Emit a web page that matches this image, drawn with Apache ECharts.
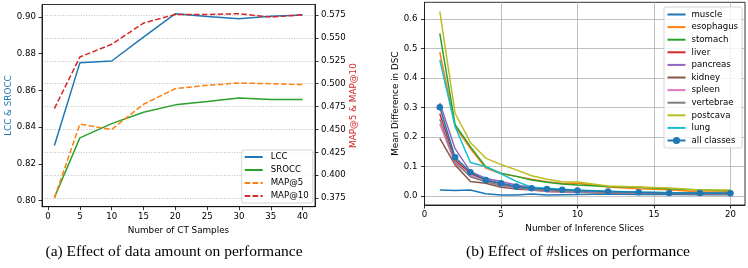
<!DOCTYPE html>
<html>
<head>
<meta charset="utf-8">
<script src="https://cdn.jsdelivr.net/npm/echarts@6/dist/echarts.min.js"></script>
<style>html,body{margin:0;padding:0;background:#fff}#c{width:748px;height:268px}</style>
</head>
<body>
<div id="c"></div>
<script>
// ---- Chart (a): effect of data amount ----
const samplesX = [1, 5, 10, 15, 20, 25, 30, 35, 40];
const lcc   = [0.830, 0.875, 0.876, 0.889, 0.9018, 0.9003, 0.8991, 0.9004, 0.9011];
const srocc = [0.8016, 0.8341, 0.8419, 0.8481, 0.8521, 0.8539, 0.8559, 0.855, 0.855];
const map5  = [0.375, 0.4557, 0.4499, 0.4775, 0.4946, 0.4982, 0.5008, 0.500, 0.499];
const map10 = [0.4728, 0.5292, 0.5431, 0.5663, 0.5757, 0.5757, 0.5765, 0.5728, 0.5754];
const aXTicks = [0, 5, 10, 15, 20, 25, 30, 35, 40];
const aLeftTicks = [0.80, 0.82, 0.84, 0.86, 0.88, 0.90];
const aRightTicks = [0.375, 0.400, 0.425, 0.450, 0.475, 0.500, 0.525, 0.550, 0.575];

// ---- Chart (b): effect of #slices ----
const slicesX = [1, 2, 3, 4, 5, 6, 7, 8, 9, 10, 12, 14, 16, 18, 20];
const classNames = ['muscle', 'esophagus', 'stomach', 'liver', 'pancreas', 'kidney', 'spleen', 'vertebrae', 'postcava', 'lung', 'all classes'];
const muscle    = [0.020, 0.018, 0.020, 0.007, 0.003, 0.003, 0.006, 0.003, 0.004, 0.005, 0.006, 0.005, 0.005, 0.004, 0.004];
const esophagus = [0.487, 0.236, 0.160, 0.094, 0.075, 0.066, 0.056, 0.048, 0.042, 0.043, 0.030, 0.024, 0.021, 0.013, 0.013];
const stomach   = [0.551, 0.241, 0.167, 0.099, 0.077, 0.066, 0.054, 0.046, 0.040, 0.037, 0.032, 0.029, 0.024, 0.020, 0.017];
const liver     = [0.278, 0.122, 0.075, 0.054, 0.041, 0.032, 0.026, 0.020, 0.018, 0.016, 0.013, 0.011, 0.010, 0.008, 0.008];
const pancreas  = [0.315, 0.160, 0.082, 0.060, 0.049, 0.037, 0.029, 0.023, 0.020, 0.018, 0.015, 0.012, 0.010, 0.009, 0.008];
const kidney    = [0.195, 0.105, 0.049, 0.043, 0.029, 0.023, 0.020, 0.015, 0.013, 0.012, 0.010, 0.009, 0.008, 0.007, 0.006];
const spleen    = [0.244, 0.111, 0.068, 0.049, 0.034, 0.027, 0.023, 0.015, 0.014, 0.013, 0.011, 0.010, 0.009, 0.008, 0.007];
const vertebrae = [0.260, 0.115, 0.065, 0.048, 0.036, 0.028, 0.022, 0.018, 0.015, 0.014, 0.012, 0.010, 0.009, 0.008, 0.007];
const postcava  = [0.625, 0.280, 0.181, 0.128, 0.106, 0.088, 0.068, 0.056, 0.048, 0.047, 0.033, 0.030, 0.027, 0.020, 0.020];
const lung      = [0.461, 0.235, 0.113, 0.099, 0.075, 0.049, 0.029, 0.026, 0.022, 0.020, 0.016, 0.013, 0.011, 0.010, 0.009];
const allClasses= [0.300, 0.131, 0.080, 0.054, 0.043, 0.032, 0.026, 0.023, 0.021, 0.018, 0.015, 0.012, 0.010, 0.010, 0.009];
const bXTicks = [0, 5, 10, 15, 20];
const bYTicks = [0.0, 0.1, 0.2, 0.3, 0.4, 0.5, 0.6];

const captionA = '(a) Effect of data amount on performance';
const captionB = '(b) Effect of #slices on performance';

// ---- styling ----
const FONT = 'DejaVu Sans';
const TICK_FS = 8.6;
const NAME_FS = 8.8;
const tab = ['#1f77b4', '#ff7f0e', '#2ca02c', '#d62728', '#9467bd', '#8c564b', '#e377c2', '#7f7f7f', '#bcbd22', '#17becf'];
const classValues = [muscle, esophagus, stomach, liver, pancreas, kidney, spleen, vertebrae, postcava, lung, allClasses];

function pairs(xs, ys) { return xs.map((x, i) => [x, ys[i]]); }

const axisLine = { show: true, onZero: false, lineStyle: { color: '#000', width: 0.8 } };
const tickStyle = (vals) => ({ show: true, length: 3.5, customValues: vals, lineStyle: { color: '#000', width: 0.8 } });
const labelStyle = (vals, fmt, margin) => ({ customValues: vals, formatter: fmt, margin: margin, color: '#000', fontSize: TICK_FS, fontFamily: FONT });

const chart = echarts.init(document.getElementById('c'), null, { renderer: 'canvas' });

const series = [
  { name: 'LCC', type: 'line', xAxisIndex: 0, yAxisIndex: 0, data: pairs(samplesX, lcc), symbol: 'none', lineStyle: { color: tab[0], width: 1.5 }, itemStyle: { color: tab[0] } },
  { name: 'SROCC', type: 'line', xAxisIndex: 0, yAxisIndex: 0, data: pairs(samplesX, srocc), symbol: 'none', lineStyle: { color: tab[2], width: 1.5 }, itemStyle: { color: tab[2] } },
  { name: 'MAP@5', type: 'line', xAxisIndex: 0, yAxisIndex: 1, data: pairs(samplesX, map5), symbol: 'none', lineStyle: { color: tab[1], width: 1.5, type: [5.5, 2.4] }, itemStyle: { color: tab[1] } },
  { name: 'MAP@10', type: 'line', xAxisIndex: 0, yAxisIndex: 1, data: pairs(samplesX, map10), symbol: 'none', lineStyle: { color: tab[3], width: 1.5, type: [5.5, 2.4] }, itemStyle: { color: tab[3] } }
];
classNames.forEach((n, i) => {
  const c = tab[i % 10];
  const isAll = n === 'all classes';
  series.push({
    name: n, type: 'line', xAxisIndex: 1, yAxisIndex: 2,
    data: pairs(slicesX, classValues[i]),
    symbol: isAll ? 'circle' : 'none', symbolSize: 6.5, showSymbol: isAll,
    lineStyle: { color: c, width: 1.5 }, itemStyle: { color: c }
  });
});

const noSym = (name) => ({ name: name, itemStyle: { opacity: 0 } });

chart.setOption({
  animation: false,
  backgroundColor: '#fff',
  grid: [
    { left: 42, top: 4.5, width: 273, height: 202.2, show: true, borderColor: '#000', borderWidth: 0.8, backgroundColor: 'transparent' },
    { left: 424.5, top: 2.3, width: 320.5, height: 202.7, show: true, borderColor: '#000', borderWidth: 0.8, backgroundColor: 'transparent' }
  ],
  xAxis: [
    { type: 'value', gridIndex: 0, min: -0.95, max: 41.95, axisLine: axisLine, axisTick: tickStyle(aXTicks),
      axisLabel: labelStyle(aXTicks, v => String(v), 5.5), splitLine: { show: false },
      name: 'Number of CT Samples', nameLocation: 'middle', nameGap: 18,
      nameTextStyle: { fontSize: NAME_FS, fontFamily: FONT, color: '#000' } },
    { type: 'value', gridIndex: 1, min: 0, max: 20.95, axisLine: axisLine, axisTick: tickStyle(bXTicks),
      axisLabel: labelStyle(bXTicks, v => String(v), 5.5),
      splitLine: { show: true, lineStyle: { color: '#b0b0b0', width: 0.8 } },
      name: 'Number of Inference Slices', nameLocation: 'middle', nameGap: 17.5,
      nameTextStyle: { fontSize: NAME_FS, fontFamily: FONT, color: '#000' } }
  ],
  yAxis: [
    { type: 'value', gridIndex: 0, position: 'left', min: 0.7966, max: 0.9068, axisLine: axisLine, axisTick: tickStyle(aLeftTicks),
      axisLabel: labelStyle(aLeftTicks, v => v.toFixed(2), 6), splitLine: { show: false },
      name: 'LCC & SROCC', nameLocation: 'middle', nameRotate: 90, nameGap: 29,
      nameTextStyle: { fontSize: NAME_FS, fontFamily: FONT, color: tab[0] } },
    { type: 'value', gridIndex: 0, position: 'right', min: 0.3655, max: 0.5866, axisLine: axisLine, axisTick: tickStyle(aRightTicks),
      axisLabel: labelStyle(aRightTicks, v => v.toFixed(3), 6),
      splitLine: { show: true, lineStyle: { color: '#b0b0b0', width: 0.8, type: [1, 1.6] } },
      name: 'MAP@5 & MAP@10', nameLocation: 'middle', nameRotate: 90, nameGap: 32,
      nameTextStyle: { fontSize: NAME_FS, fontFamily: FONT, color: tab[3] } },
    { type: 'value', gridIndex: 1, position: 'left', min: -0.031, max: 0.656, axisLine: axisLine, axisTick: tickStyle(bYTicks),
      axisLabel: labelStyle(bYTicks, v => v.toFixed(1), 7),
      splitLine: { show: true, lineStyle: { color: '#b0b0b0', width: 0.8 } },
      name: 'Mean Difference in DSC', nameLocation: 'middle', nameRotate: 90, nameGap: 24,
      nameTextStyle: { fontSize: NAME_FS, fontFamily: FONT, color: '#000' } }
  ],
  legend: [
    { data: ['LCC', 'SROCC', 'MAP@5', 'MAP@10'].map(noSym), orient: 'vertical', left: 241.7, top: 150,
      itemWidth: 18, itemHeight: 9, itemGap: 4, padding: [2.5, 4, 2.5, 2],
      backgroundColor: 'rgba(255,255,255,0.8)', borderColor: '#cccccc', borderWidth: 0.8, borderRadius: 2,
      textStyle: { fontSize: TICK_FS, fontFamily: FONT, color: '#000', padding: [0, 0, 0, 3] } },
    { data: classNames.map(n => n === 'all classes' ? { name: n } : noSym(n)), orient: 'vertical', left: 664, top: 7,
      itemWidth: 18, itemHeight: 9, itemGap: 3.6, padding: [3, 4, 3, 2.5],
      backgroundColor: 'rgba(255,255,255,0.8)', borderColor: '#cccccc', borderWidth: 0.8, borderRadius: 2,
      textStyle: { fontSize: TICK_FS, fontFamily: FONT, color: '#000', padding: [0, 0, 0, 1] } }
  ],
  graphic: [
    { type: 'text', style: { text: captionA, x: 174, y: 252, textAlign: 'center', textVerticalAlign: 'middle', font: '15.5px "Liberation Serif"', fill: '#000' } },
    { type: 'text', style: { text: captionB, x: 578, y: 252, textAlign: 'center', textVerticalAlign: 'middle', font: '15.5px "Liberation Serif"', fill: '#000' } }
  ],
  series: series
});
</script>
</body>
</html>
